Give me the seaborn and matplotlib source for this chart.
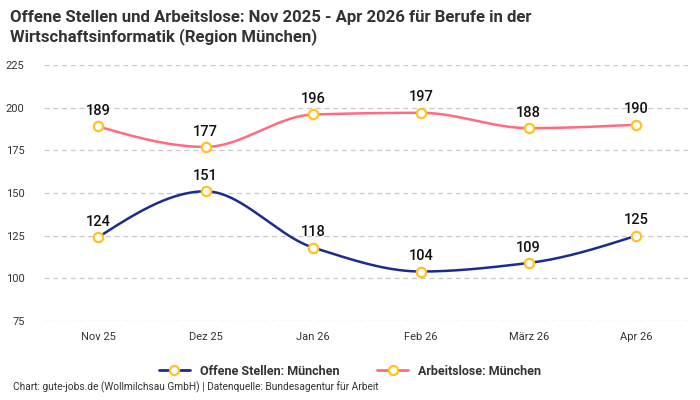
import numpy as np
import pandas as pd
import matplotlib
matplotlib.use("Agg")
import matplotlib.pyplot as plt
import seaborn as sns
from matplotlib.lines import Line2D

months = ["Nov 25", "Dez 25", "Jan 26", "Feb 26", "März 26", "Apr 26"]
offene = [124, 151, 118, 104, 109, 125]
arbeitslose = [189, 177, 196, 197, 188, 190]
series_names = ["Offene Stellen: München", "Arbeitslose: München"]
colors = ["#1c2b8f", "#ff6b81"]
marker_edge = "#ffc21f"

sns.set_theme(style="white")
plt.rcParams['font.family'] = ['Roboto', 'DejaVu Sans']

def pchip(x, y, n=200):
    x = np.asarray(x, float); y = np.asarray(y, float)
    h = np.diff(x); d = np.diff(y) / h
    m = np.zeros_like(y)
    for k in range(1, len(y) - 1):
        if d[k-1] * d[k] <= 0:
            m[k] = 0
        else:
            m[k] = 3 * (h[k-1] + h[k]) / ((2*h[k] + h[k-1]) / d[k-1] + (h[k] + 2*h[k-1]) / d[k])
    m[0] = (3 * d[0] - m[1]) / 2 if len(y) > 2 else d[0]
    m[-1] = (3 * d[-1] - m[-2]) / 2 if len(y) > 2 else d[-1]
    xs, ys = [], []
    for k in range(len(x) - 1):
        t = np.linspace(0, 1, n)
        h00 = 2*t**3 - 3*t**2 + 1; h10 = t**3 - 2*t**2 + t
        h01 = -2*t**3 + 3*t**2; h11 = t**3 - t**2
        xs.append(x[k] + t*h[k])
        ys.append(h00*y[k] + h10*h[k]*m[k] + h01*y[k+1] + h11*h[k]*m[k+1])
    return np.concatenate(xs), np.concatenate(ys)

df = pd.DataFrame({
    "Monat": months * 2,
    "pos": list(range(len(months))) * 2,
    "Wert": offene + arbeitslose,
    "Serie": [series_names[0]] * len(months) + [series_names[1]] * len(months),
})

fig = plt.figure(figsize=(7, 4), dpi=100)
ax = fig.add_axes([0.063, 0.1975, 0.923, 0.64])

for name, col in zip(series_names, colors):
    sub = df[df["Serie"] == name]
    xs, ys = pchip(sub["pos"], sub["Wert"])
    sns.lineplot(x=xs, y=ys, ax=ax, color=col, lw=1.8, sort=False, zorder=2)
    sns.scatterplot(x=sub["pos"], y=sub["Wert"], ax=ax, s=45, color="white",
                    edgecolor=marker_edge, linewidth=1.6, zorder=3)
    for xv, yv in zip(sub["pos"], sub["Wert"]):
        ax.annotate(str(yv), (xv, yv), xytext=(0, 6), textcoords="offset points",
                    ha="center", va="bottom", fontsize=10.5, color="#111111",
                    fontweight="medium", zorder=4)

ax.set_xlim(-0.5, len(months) - 0.5)
ax.set_ylim(75, 225)
ax.set_yticks([75, 100, 125, 150, 175, 200, 225])
ax.set_xticks(range(len(months)))
ax.set_xticklabels(months)
ax.tick_params(axis="both", length=0, labelsize=8, colors="#333333")
ax.tick_params(axis="y", pad=14)
ax.tick_params(axis="x", pad=8)
ax.grid(axis="y", color="#c8c8c8", linestyle=(0, (4, 3)), lw=0.9)
ax.set_axisbelow(True)
for s in ax.spines.values():
    s.set_visible(False)
ax.set_xlabel(""); ax.set_ylabel("")

handles = [Line2D([0], [0], color=c, lw=2, marker="o", markersize=6.5,
                  markerfacecolor="white", markeredgecolor=marker_edge, markeredgewidth=1.6)
           for c in colors]
leg = fig.legend(handles, series_names, loc="center", bbox_to_anchor=(0.5, 0.072),
                 ncol=2, frameon=False, handlelength=2.5, columnspacing=3,
                 prop={"weight": "bold", "size": 9})
for t in leg.get_texts():
    t.set_color("#333333")

fig.text(0.014, 0.975, "Offene Stellen und Arbeitslose: Nov 2025 - Apr 2026 für Berufe in der\nWirtschaftsinformatik (Region München)",
         ha="left", va="top", fontsize=12.1, fontweight="bold", color="#333333", linespacing=1.25)
fig.text(0.018, 0.017, "Chart: gute-jobs.de (Wollmilchsau GmbH) | Datenquelle: Bundesagentur für Arbeit",
         ha="left", va="bottom", fontsize=7.3, color="#333333")

fig.savefig("out.png", dpi=100)
